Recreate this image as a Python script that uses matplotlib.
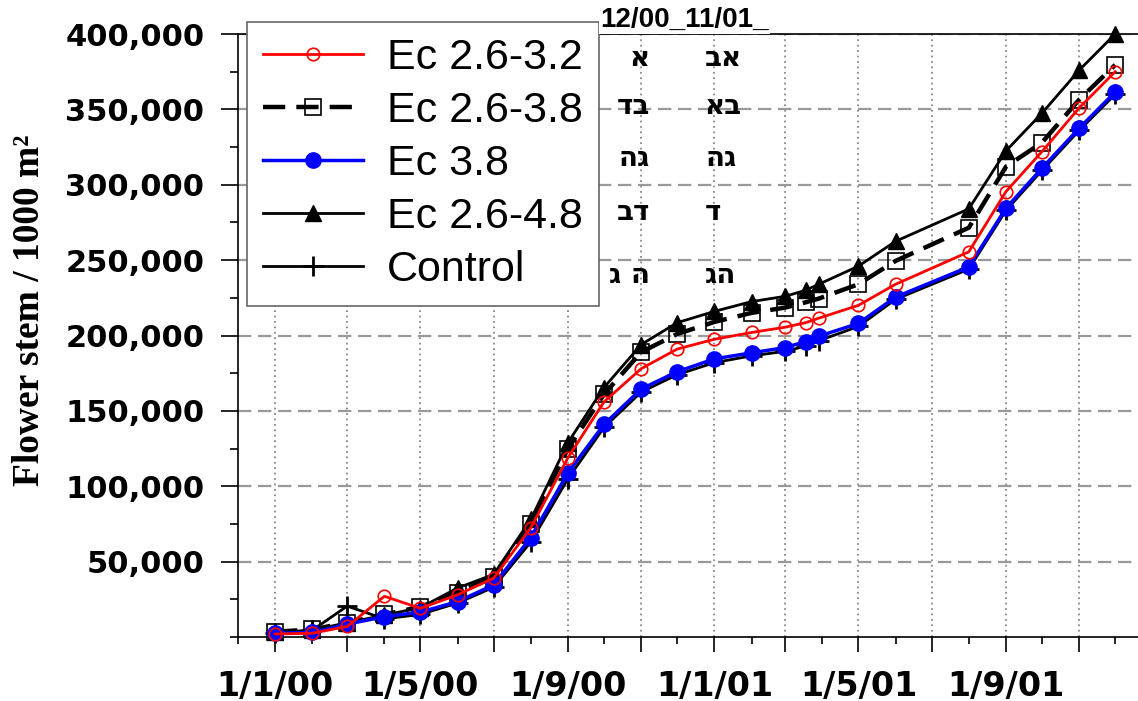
import matplotlib
matplotlib.use("Agg")
import matplotlib.pyplot as plt
import matplotlib.dates as mdates
from matplotlib.ticker import FuncFormatter, MultipleLocator
import numpy as np
import pandas as pd

# ---- data: flower stems per 1000 m2, cumulative ----
dates = pd.to_datetime([
    "2000-01-01", "2000-02-01", "2000-03-01", "2000-04-01", "2000-05-01",
    "2000-06-01", "2000-07-01", "2000-08-01", "2000-09-01", "2000-10-01",
    "2000-11-01", "2000-12-01", "2001-01-01", "2001-02-01", "2001-03-01",
    "2001-03-18", "2001-03-29", "2001-05-01", "2001-06-01", "2001-08-01",
    "2001-09-01", "2001-10-01", "2001-11-01", "2001-12-01",
])

ec_26_32 = [2000, 2500, 7000, 27000, 19000, 28000, 39000, 72500, 119000, 156000,
            178000, 191000, 197500, 202000, 205500, 208500, 211500, 220000,
            234000, 255500, 295500, 322000, 351000, 375000]
ec_26_38 = [3500, 5000, 9500, 15000, 20000, 29500, 40000, 75000, 125000, 161000,
            189000, 201000, 209000, 215000, 218500, 222000, 224500, 234000,
            249500, 271500, 312000, 328000, 356500, 379500]
ec_38 = [2500, 3000, 8500, 13500, 16500, 23500, 34500, 66000, 109000, 141000,
         164500, 176000, 184500, 188500, 192000, 196000, 199500, 208000,
         225500, 245500, 284500, 311000, 337500, 361500]
ec_26_48 = [3000, 4500, 9500, 14500, 19500, 32500, 41500, 78000, 129000, 165500,
            194000, 208500, 216000, 222500, 226000, 230000, 234000, 246000,
            262500, 284000, 322500, 347500, 376000, 400000]
control = [2500, 4500, 20500, 12000, 15000, 22500, 33000, 63000, 105000, 139000,
           162500, 174000, 182000, 186500, 189500, 193000, 196500, 206000,
           224000, 244000, 283000, 309500, 336000, 360000]

# significance letters (12/00 and 11/01), one row per treatment
col_dates = ["12/00", "11/01"]
letters_1200 = ["א", "דב", "הג", "בד", "ג ה"]
letters_1101 = ["בא", "אב", "הג", "ד", "גה"]

W, H = 1138, 701
fig = plt.figure(figsize=(W / 100, H / 100), dpi=100)
ax = fig.add_axes([238 / W, 64 / H, 900 / W, 603 / H])

l_ctrl, = ax.plot(dates, control, color="black", lw=2, marker="+", ms=14, mew=2,
                  label="Control", zorder=3, clip_on=False)
l_48, = ax.plot(dates, ec_26_48, color="black", lw=2, marker="^", ms=11,
                label="Ec 2.6-4.8", zorder=4, clip_on=False)
l_38d, = ax.plot(dates, ec_26_38, color="black", lw=3.2, ls=(0, (5, 2.5)), marker="s",
                 ms=11, mfc="none", mec="black", mew=1.2, label="Ec 2.6-3.8",
                 zorder=5, clip_on=False)
l_38, = ax.plot(dates, ec_38, color="#0000ff", lw=2.5, marker="o", ms=11,
                label="Ec 3.8", zorder=6, clip_on=False)
l_32, = ax.plot(dates, ec_26_32, color="#ff0000", lw=2, marker="o", ms=9, mfc="none",
                mec="#ff0000", mew=1.2, label="Ec 2.6-3.2", zorder=7, clip_on=False)

ax.set_xlim(pd.Timestamp("1999-12-01"), pd.Timestamp("2001-12-20"))
ax.set_ylim(0, 400000)

ax.xaxis.set_major_locator(mdates.MonthLocator(bymonth=[1, 3, 5, 7, 9, 11]))
ax.xaxis.set_minor_locator(mdates.MonthLocator())


def date_label(x, pos):
    d = mdates.num2date(x)
    if d.month in (1, 5, 9):
        return f"{d.day}/{d.month}/{d:%y}"
    return ""


ax.xaxis.set_major_formatter(FuncFormatter(date_label))
ax.set_yticks(np.arange(50000, 400001, 50000))
ax.yaxis.set_minor_locator(MultipleLocator(25000))
ax.yaxis.set_major_formatter(FuncFormatter(lambda v, p: f"{v:,.0f}"))

ax.tick_params(axis="x", which="major", length=10.8, width=1.2, direction="out", pad=13)
ax.tick_params(axis="x", which="minor", length=5, width=1.2, direction="out")
ax.tick_params(axis="y", which="major", length=12.2, width=1.2, direction="out", pad=12)
ax.tick_params(axis="y", which="minor", length=5.8, width=1.2, direction="out")
for lab in ax.get_xticklabels():
    lab.set_fontfamily("DejaVu Sans")
    lab.set_fontweight("bold")
    lab.set_fontsize(24)
for lab in ax.get_yticklabels():
    lab.set_fontfamily("DejaVu Sans")
    lab.set_fontweight("bold")
    lab.set_fontsize(22)

ax.xaxis.grid(True, which="major", ls=(0, (1, 2)), color="#888888", lw=1.3)
ax.yaxis.grid(True, which="major", ls=(0, (6, 3)), color="#999999", lw=1.6)
ax.set_axisbelow(True)
ax.spines["right"].set_visible(False)
for s in ("left", "bottom", "top"):
    ax.spines[s].set_linewidth(1.2)

fig.text(30 / W, 1 - 310 / H, "Flower stem / 1000 m²", rotation=90,
         ha="center", va="center", fontsize=27, fontweight="bold",
         family="Liberation Serif")

leg = ax.legend(handles=[l_32, l_38d, l_38, l_48, l_ctrl], loc="upper left",
                bbox_to_anchor=(247 / W, 1 - 22 / H), bbox_transform=fig.transFigure,
                borderaxespad=0, fancybox=False, framealpha=1, edgecolor="#666666",
                prop={"family": "Liberation Sans", "size": 31}, handlelength=2.32,
                handletextpad=0.55, labelspacing=0.3, borderpad=0.38)
leg.get_frame().set_linewidth(1.2)
leg.set_zorder(10)

# column header sits over the top spine
fig.text(600 / W, 1 - 20 / H, f"{col_dates[0]}_{col_dates[1]}_", ha="left",
         va="center", fontsize=20, fontweight="bold", family="Liberation Sans",
         bbox=dict(facecolor="white", edgecolor="none", pad=1), zorder=10)

row_y = [58, 106, 158, 212, 275]
for y, a, b in zip(row_y, letters_1200, letters_1101):
    fig.text(650 / W, 1 - y / H, a, ha="right", va="center", fontsize=20,
             fontweight="bold", family="DejaVu Sans", zorder=10)
    fig.text(705 / W, 1 - y / H, b, ha="left", va="center", fontsize=20,
             fontweight="bold", family="DejaVu Sans", zorder=10)

fig.savefig("out.png", dpi=100, facecolor="white")
